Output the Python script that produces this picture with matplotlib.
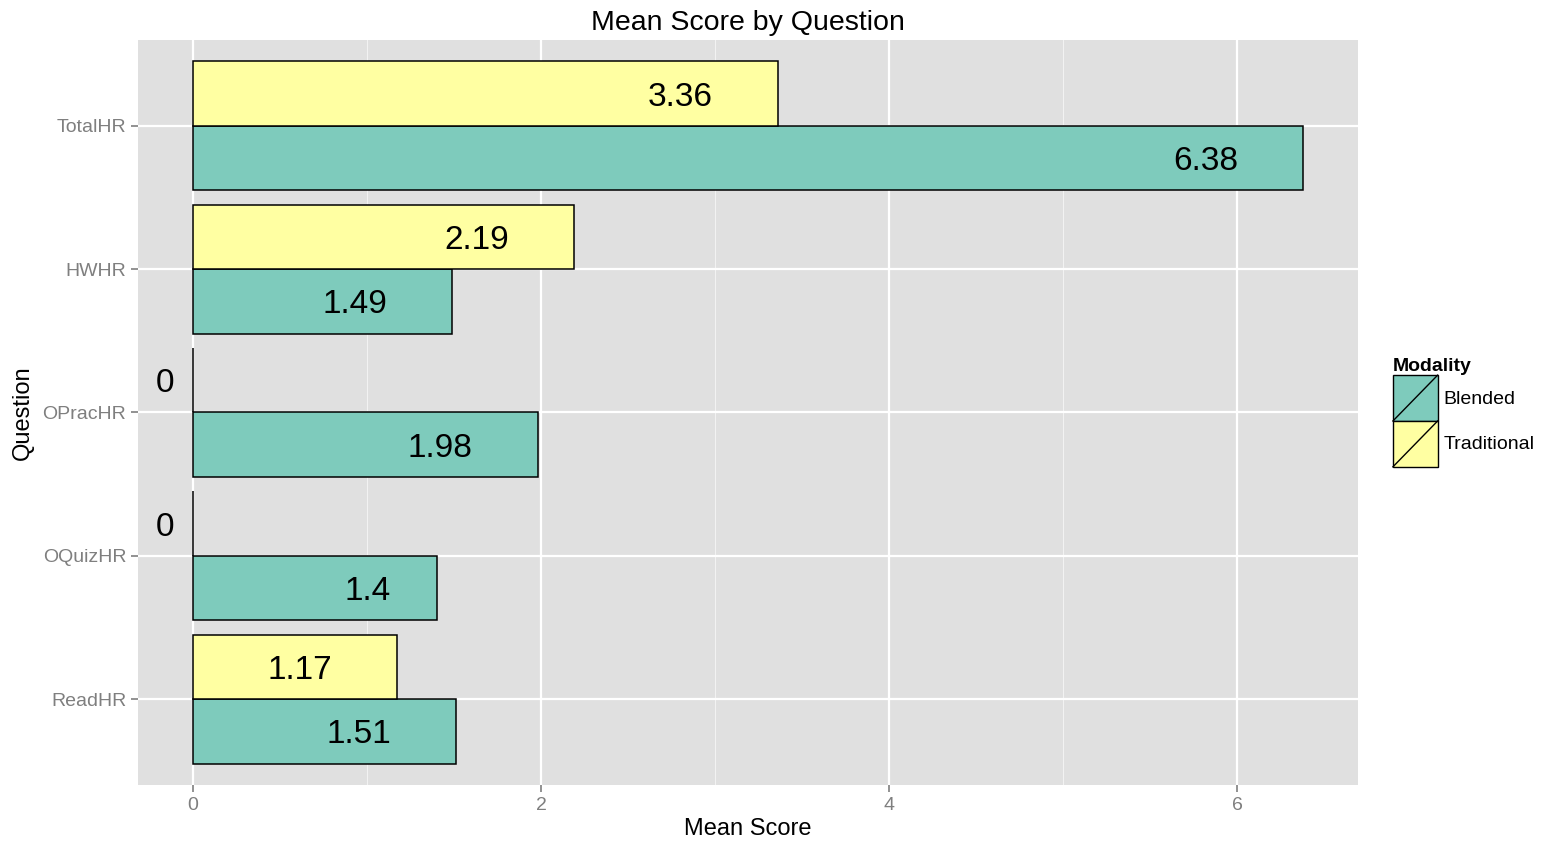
import numpy as np
import matplotlib.pyplot as plt
from matplotlib.patches import Rectangle
from matplotlib.lines import Line2D
from matplotlib.legend_handler import HandlerPatch
from matplotlib.transforms import ScaledTranslation

plt.rcParams['font.family'] = ['Liberation Sans', 'DejaVu Sans']

questions = ['ReadHR', 'OQuizHR', 'OPracHR', 'HWHR', 'TotalHR']
blended = [1.51, 1.4, 1.98, 1.49, 6.38]
traditional = [1.17, 0, 0, 2.19, 3.36]
modalities = ['Blended', 'Traditional']
colors = ['#7ECBBC', '#FFFFA2']


class SlashHandler(HandlerPatch):
    # ggplot-style key: filled box with a diagonal line
    def create_artists(self, legend, orig_handle, xdescent, ydescent,
                       width, height, fontsize, trans):
        r = Rectangle((-xdescent, -ydescent), width, height,
                      facecolor=orig_handle.get_facecolor(),
                      edgecolor='black', lw=1.0, transform=trans)
        ln = Line2D([-xdescent, -xdescent + width],
                    [-ydescent, -ydescent + height],
                    color='black', lw=1.0, transform=trans)
        return [r, ln]


fig = plt.figure(figsize=(15.41, 8.43), dpi=100)
ax = fig.add_axes([0.0896, 0.0688, 0.7916, 0.8838])
ax.set_facecolor('#E0E0E0')

y = np.arange(len(questions))
h = 0.45
bars_b = ax.barh(y - h / 2, blended, height=h, color=colors[0],
                 edgecolor='black', lw=1.1, zorder=3)
bars_t = ax.barh(y + h / 2, traditional, height=h, color=colors[1],
                 edgecolor='black', lw=1.1, zorder=3)

labels = []
for yy, v in zip(y - h / 2, blended):
    labels.append(ax.text(v, yy, f'{v:g}', ha='right', va='center_baseline',
                          fontsize=24, zorder=4))
for yy, v in zip(y + h / 2, traditional):
    labels.append(ax.text(v, yy, f'{v:g}', ha='right', va='center_baseline',
                          fontsize=24, zorder=4))

ax.set_xlim(-0.316, 6.695)
ax.set_ylim(-0.6, 4.6)
ax.set_yticks(y)
ax.set_yticklabels(questions)
ax.set_xticks([0, 2, 4, 6])
ax.set_xticks([1, 3, 5], minor=True)
ax.grid(True, which='major', color='white', lw=1.6, zorder=0)
ax.grid(True, which='minor', axis='x', color='#F2F2F2', lw=0.8, zorder=0)
ax.tick_params(axis='both', which='major', colors='#7F7F7F', labelsize=14,
               length=5, width=1.2, labelcolor='#7F7F7F')
ax.tick_params(axis='x', which='minor', length=0)
for s in ax.spines.values():
    s.set_visible(False)

ax.set_title('Mean Score by Question', fontsize=20.5, pad=7)
ax.set_xlabel('Mean Score', fontsize=17, labelpad=3)
ax.set_ylabel('Question', fontsize=17, labelpad=6)

leg = ax.legend([bars_b[0], bars_t[0]], modalities, title='Modality',
                handler_map={Rectangle: SlashHandler()},
                loc='center left', bbox_to_anchor=(1.0, 0.5),
                frameon=False, fontsize=14, title_fontsize=14,
                handlelength=2.3, handleheight=3.25, handletextpad=0.3,
                labelspacing=0.0, borderaxespad=1.4)
leg.get_title().set_fontweight('bold')
leg._legend_box.align = 'left'

# ggplot hjust = 2: shift each label left by its own width
fig.canvas.draw()
for t in labels:
    w = t.get_window_extent().width
    t.set_transform(ax.transData + ScaledTranslation(-w / fig.dpi, 0, fig.dpi_scale_trans))

fig.savefig('out.png', dpi=100)
